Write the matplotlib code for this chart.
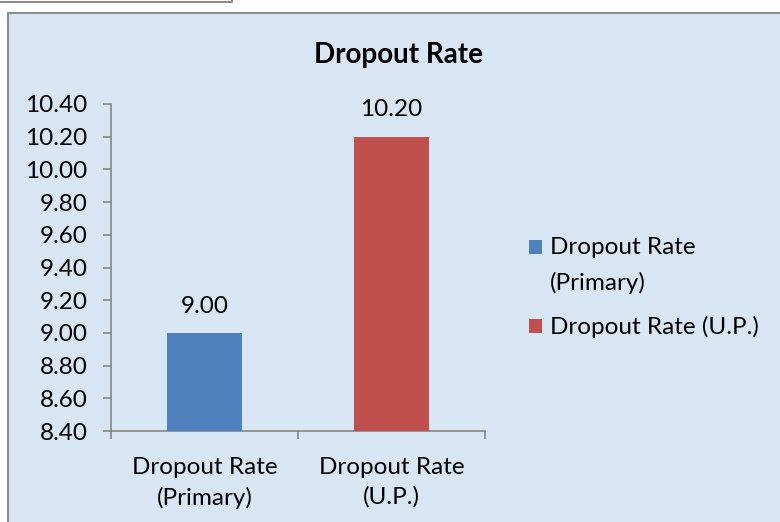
import matplotlib.pyplot as plt
from matplotlib.patches import Rectangle
from matplotlib.lines import Line2D

categories = ["Dropout Rate\n(Primary)", "Dropout Rate\n(U.P.)"]
legend_labels = ["Dropout Rate\n(Primary)", "Dropout Rate (U.P.)"]
values = [9.00, 10.20]
colors = ["#4f81bd", "#c0504d"]
yticks = [8.40, 8.60, 8.80, 9.00, 9.20, 9.40, 9.60, 9.80, 10.00, 10.20, 10.40]

plt.rcParams['font.family'] = ['Lato', 'DejaVu Sans']
FS = 17.5

fig = plt.figure(figsize=(7.8, 5.22), dpi=100)
fig.patch.set_facecolor("white")

# chart area background and border
W, H = 780, 522
fig.patches.append(Rectangle((8 / W, -0.01), 1.0, 1 - 13 / H + 0.01, transform=fig.transFigure,
                             facecolor="#d8e6f4", edgecolor="#8c8c8c", linewidth=1.5, zorder=-5))
# small box at top-left
fig.lines.append(Line2D([0, 232 / W, 232 / W], [1 - 2 / H, 1 - 2 / H, 1.0], transform=fig.transFigure,
                        color="#8c8c8c", linewidth=1.5, zorder=-4))

ax = fig.add_axes([111 / W, 1 - 431 / H, (485 - 111) / W, (431 - 104) / H])
ax.patch.set_alpha(0)

x = [0, 1]
ax.bar(x, [v - 8.40 for v in values], bottom=8.40, width=0.4, color=colors, zorder=3)
for xi, v in zip(x, values):
    ax.text(xi, v + 0.1, "%.2f" % v, ha="center", va="bottom", fontsize=FS)

ax.set_ylim(8.40, 10.40)
ax.set_xlim(-0.5, 1.5)
ax.set_yticks(yticks)
ax.set_yticklabels(["%.2f" % t for t in yticks], fontsize=FS)
ax.set_xticks([-0.5, 0.5, 1.5])
ax.set_xticklabels([])
ax.set_xticks(x, minor=True)
ax.set_xticklabels(categories, minor=True, fontsize=FS, linespacing=1.45)
ax.tick_params(axis="x", which="minor", length=0, pad=19)
ax.tick_params(axis="both", which="major", length=6, color="#868686", width=1.2)
ax.tick_params(axis="y", pad=11)

for s in ["top", "right"]:
    ax.spines[s].set_visible(False)
for s in ["left", "bottom"]:
    ax.spines[s].set_color("#868686")
    ax.spines[s].set_linewidth(1.2)

fig.text(398 / W, 1 - 55 / H, "Dropout Rate", ha="center", va="center",
         fontsize=20, fontweight="bold")

# legend: square aligned with the first line of each entry
leg_y = [247, 326]
for lab, c, yy in zip(legend_labels, colors, leg_y):
    fig.patches.append(Rectangle((529 / W, 1 - (yy + 7) / H), 13 / W, 14 / H,
                                 transform=fig.transFigure, facecolor=c, edgecolor="none"))
    fig.text(550 / W, 1 - (yy - 10) / H, lab, ha="left", va="top", fontsize=FS, linespacing=1.75)

fig.savefig("out.png", dpi=100, facecolor=fig.get_facecolor())
